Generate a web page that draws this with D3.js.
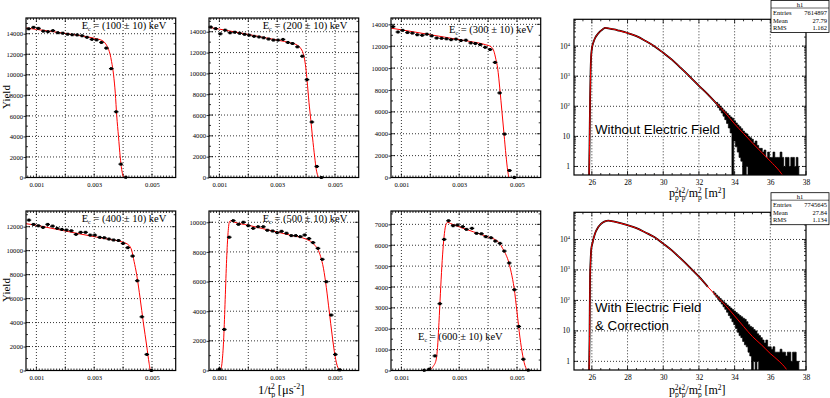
<!DOCTYPE html>
<html>
<head>
<meta charset="utf-8">
<script src="https://cdn.jsdelivr.net/npm/d3@7"></script>
<style>
  body { margin: 0; background: #fff; }
  svg text { font-family: "Liberation Serif", "Times New Roman", serif; fill: #000; }
  .grid { stroke: #000; stroke-width: 0.8; stroke-dasharray: 1,2; }
  .axis line { stroke: #000; stroke-width: 0.8; }
  .axis path { display: none; }
  .frame { fill: none; stroke: #000; stroke-width: 1.2; }
</style>
</head>
<body>
<div id="chart"></div>
<script>
var svgWidth = 830;
var svgHeight = 398;

var energies = ["100", "200", "300", "400", "500", "600"];
var xTickLabels = [0.001, 0.003, 0.005];
var xGridValues = [0.001, 0.002, 0.003, 0.004, 0.005];
var binHalfWidth = 0.00008;

// yield vs 1/t^2 for each energy cut
var binsE100 = [0.00073, 0.00090, 0.00107, 0.00124, 0.00140, 0.00157, 0.00174, 0.00191, 0.00208, 0.00224, 0.00241, 0.00258, 0.00275, 0.00292, 0.00308, 0.00325, 0.00342, 0.00359, 0.00376, 0.00392, 0.00409];
var yieldE100 = [14480, 14620, 14520, 14250, 14200, 14300, 14100, 14050, 13950, 13900, 13880, 13800, 13650, 13450, 13400, 13150, 12600, 10600, 6400, 1300, 20];
var fitE100 = [[0.00064, 14560], [0.001, 14420], [0.0015, 14230], [0.002, 14030], [0.0025, 13820], [0.003, 13560], [0.0033, 13300], [0.0034, 13000], [0.0035, 12450], [0.00355, 12000], [0.0036, 11300], [0.00367, 10000], [0.00373, 8200], [0.00378, 6000], [0.00384, 4000], [0.0039, 2000], [0.00395, 800], [0.004, 150], [0.00405, 0], [0.00582, 0]];

var binsE200 = [0.00070, 0.00087, 0.00103, 0.00120, 0.00137, 0.00153, 0.00170, 0.00187, 0.00203, 0.00220, 0.00237, 0.00253, 0.00270, 0.00287, 0.00303, 0.00320, 0.00337, 0.00353, 0.00370, 0.00387, 0.00403, 0.00420, 0.00437, 0.00453];
var yieldE200 = [14450, 14300, 13800, 14150, 13900, 13950, 13850, 13750, 13670, 13560, 13500, 13420, 13300, 13200, 13200, 13260, 12970, 12870, 12550, 11650, 9400, 5330, 1060, 0];
var fitE200 = [[0.00064, 14420], [0.001, 14250], [0.0015, 14000], [0.002, 13740], [0.0025, 13470], [0.003, 13200], [0.0035, 12900], [0.0037, 12700], [0.0038, 12450], [0.0039, 11900], [0.00395, 11300], [0.004, 10300], [0.00405, 8800], [0.0041, 7200], [0.00416, 5600], [0.00422, 3900], [0.0043, 1900], [0.00435, 800], [0.0044, 200], [0.00445, 0], [0.00582, 0]];

var binsE300 = [0.00071, 0.00088, 0.00104, 0.00121, 0.00138, 0.00155, 0.00172, 0.00188, 0.00205, 0.00222, 0.00239, 0.00256, 0.00272, 0.00289, 0.00306, 0.00323, 0.00340, 0.00356, 0.00373, 0.00390, 0.00407, 0.00424, 0.00440, 0.00457, 0.00474, 0.00491];
var yieldE300 = [13790, 13300, 13450, 13250, 13200, 13050, 13000, 13100, 12950, 12750, 12720, 12680, 12600, 12650, 12520, 12550, 12300, 12250, 12150, 11900, 11700, 10520, 7730, 3970, 640, 0];
var fitE300 = [[0.00064, 13650], [0.001, 13500], [0.0015, 13280], [0.002, 13050], [0.0025, 12830], [0.003, 12600], [0.0035, 12380], [0.0039, 12150], [0.0041, 11950], [0.0042, 11550], [0.00427, 10800], [0.00433, 10000], [0.00441, 8000], [0.00448, 6000], [0.00455, 4000], [0.00462, 2000], [0.00468, 600], [0.00473, 0], [0.00582, 0]];

var binsE400 = [0.00074, 0.00090, 0.00107, 0.00123, 0.00139, 0.00156, 0.00172, 0.00188, 0.00204, 0.00221, 0.00237, 0.00253, 0.00270, 0.00286, 0.00302, 0.00319, 0.00335, 0.00351, 0.00367, 0.00384, 0.00400, 0.00416, 0.00433, 0.00449, 0.00465, 0.00482, 0.00498];
var yieldE400 = [12550, 12190, 12080, 11940, 12190, 12050, 11860, 11770, 11720, 11660, 11360, 11530, 11530, 11300, 11300, 11110, 11080, 10970, 10890, 10850, 10600, 10250, 9550, 7490, 4480, 1340, 0];
var fitE400 = [[0.00064, 12250], [0.001, 12120], [0.0015, 11880], [0.002, 11640], [0.0025, 11400], [0.003, 11170], [0.0035, 10950], [0.004, 10700], [0.0042, 10450], [0.0043, 10000], [0.00438, 9100], [0.00447, 8000], [0.00459, 6000], [0.0047, 4000], [0.00482, 2000], [0.0049, 600], [0.00495, 0], [0.00582, 0]];

var binsE500 = [0.00100, 0.00117, 0.00134, 0.00148, 0.00166, 0.00183, 0.00200, 0.00217, 0.00234, 0.00252, 0.00266, 0.00284, 0.00300, 0.00315, 0.00332, 0.00349, 0.00364, 0.00380, 0.00395, 0.00410, 0.00424, 0.00441, 0.00456, 0.00470, 0.00487, 0.00501, 0.00516];
var yieldE500 = [90, 2770, 8990, 10110, 9860, 10000, 9770, 9590, 9700, 9700, 9460, 9410, 9300, 9390, 9260, 9100, 9100, 9030, 9140, 8900, 8630, 8240, 7500, 5990, 3740, 1080, 45];
var fitE500 = [[0.00064, 0], [0.00098, 0], [0.00105, 100], [0.0011, 700], [0.00115, 2200], [0.0012, 4800], [0.00125, 7500], [0.0013, 9300], [0.00135, 10050], [0.0014, 10100], [0.0015, 10020], [0.002, 9800], [0.0025, 9570], [0.003, 9340], [0.0035, 9110], [0.004, 8860], [0.0042, 8650], [0.0043, 8450], [0.0044, 8200], [0.0045, 7700], [0.0046, 6900], [0.0047, 5600], [0.0048, 4000], [0.0049, 2400], [0.005, 1000], [0.0051, 200], [0.0052, 0], [0.00582, 0]];

var binsE600 = [0.00179, 0.00196, 0.00216, 0.00233, 0.00248, 0.00263, 0.00279, 0.00294, 0.00312, 0.00325, 0.00344, 0.00360, 0.00377, 0.00392, 0.00410, 0.00425, 0.00441, 0.00456, 0.00473, 0.00491, 0.00506, 0.00522, 0.00539];
var yieldE600 = [10, 60, 700, 3200, 6280, 7175, 6935, 6970, 6890, 6760, 6810, 6570, 6550, 6410, 6360, 6200, 6090, 5720, 5150, 3870, 2110, 540, 15];
var fitE600 = [[0.00064, 0], [0.0019, 0], [0.002, 40], [0.0021, 200], [0.0022, 500], [0.00225, 1100], [0.0023, 2300], [0.00235, 3700], [0.0024, 5000], [0.00245, 6000], [0.0025, 6700], [0.00256, 7050], [0.0026, 7100], [0.0027, 7040], [0.003, 6880], [0.0035, 6640], [0.004, 6400], [0.0042, 6300], [0.0043, 6220], [0.0044, 6100], [0.0045, 5850], [0.0046, 5600], [0.0047, 5250], [0.0048, 4700], [0.0049, 3950], [0.005, 2800], [0.0051, 1600], [0.0052, 700], [0.0053, 150], [0.0054, 0], [0.00582, 0]];

// p^2 t^2 / m^2 spectra
var massTicks = [26, 28, 30, 32, 34, 36, 38];
var decadeTicks = [1, 10, 100, 1000, 10000];
var bandStep = 0.1;

var fitNoField = [[25.84, 0.3], [25.87, 5], [25.9, 150], [25.93, 1500], [25.96, 4500], [26.0, 8000], [26.1, 14000], [26.2, 19500], [26.3, 24000], [26.45, 30500], [26.6, 36000], [26.75, 40500], [27.0, 38500], [27.25, 36000], [27.5, 33000], [28.0, 27300], [28.5, 21500], [29.0, 15000], [29.5, 10000], [30.0, 6000], [30.5, 3500], [31.0, 1850], [31.5, 950], [32.0, 480], [32.5, 250], [33.0, 120], [33.5, 58], [34.0, 26], [34.5, 12.5], [35.0, 6], [35.5, 3], [36.0, 1.5], [36.5, 0.72], [36.7, 0.5], [36.9, 0.33]];
// low / high count of the fluctuating tail, per 0.1 slice from 33.0 to 37.6
var bandNoFieldStart = 33.0;
var bandNoField = [
  [105, 135], [90, 118], [74, 102], [60, 88], [47, 76], [36, 66], [27, 58], [19, 50], [13, 44], [0, 40],
  [7, 33], [4.5, 28], [3, 24], [2, 21], [1.5, 18], [0, 15], [0, 13], [1, 12], [0, 10], [0, 9],
  [0, 8], [0, 6], [0, 7], [0, 5], [0, 4], [0, 4], [0, 3], [0, 3.5], [0, 2], [0, 3],
  [0, 2], [0, 2], [0, 3], [0, 2], [0, 2], [0, 2], [0, 3], [0, 2], [0, 1], [0, 2],
  [0, 2], [0, 1], [0, 2], [0, 2], [0, 1], [0, 2], [0, 1]];

var fitWithField = [[25.84, 0.3], [25.87, 5], [25.9, 600], [25.93, 2000], [25.97, 5000], [26.04, 7800], [26.1, 11000], [26.2, 17000], [26.35, 25000], [26.5, 32000], [26.7, 38500], [26.93, 41500], [27.2, 39000], [27.5, 35500], [28.0, 29500], [28.5, 23500], [29.0, 17000], [29.5, 12000], [30.0, 7300], [30.5, 4300], [31.0, 2300], [31.5, 1200], [32.0, 600], [32.5, 280], [33.0, 135], [33.5, 68], [34.0, 31], [34.5, 14], [35.0, 6.5], [35.5, 3.5], [36.0, 1.8], [36.5, 1.0], [36.9, 0.55], [37.1, 0.35]];
// low / high count of the fluctuating tail, per 0.1 slice from 32.8 to 37.6
var bandWithFieldStart = 32.8;
var bandWithField = [
  [178, 198], [152, 174], [128, 150], [108, 132], [91, 116], [76, 102], [62, 90], [51, 80], [41, 71], [32, 63],
  [26, 56], [20, 50], [16, 45], [12, 40], [9, 36], [7, 32], [6, 29], [4.5, 26], [3.5, 24], [3, 20],
  [2, 16], [1.5, 14], [0, 13], [1, 11], [0, 10], [1, 8], [0, 7], [0, 6], [0, 5], [0, 4],
  [0, 5], [0, 3], [0, 3], [0, 2.5], [0, 3], [0, 2], [0, 2], [0, 2], [0, 2.5], [0, 2],
  [0, 2], [0, 1.5], [0, 2], [0, 2], [0, 1], [0, 2], [0, 2], [0, 1], [0, 1]];

var statsNoField = [["Entries", "7614897"], ["Mean", "27.79"], ["RMS", "1.162"]];
var statsWithField = [["Entries", "7745645"], ["Mean", "27.84"], ["RMS", "1.134"]];

var svg = d3.select("#chart")
  .append("svg")
  .attr("width", svgWidth)
  .attr("height", svgHeight);

var pw = 149.7, ph = 159.5;
var xDomain = [0.00064, 0.00582];

var yieldPanels = [
  {bins: binsE100, yields: yieldE100, fit: fitE100, left: 26, top: 18, yMax: 15530, yStep: 2000, lx: 81.7, ly: 29},
  {bins: binsE200, yields: yieldE200, fit: fitE200, left: 209, top: 18, yMax: 15320, yStep: 2000, lx: 262.7, ly: 29},
  {bins: binsE300, yields: yieldE300, fit: fitE300, left: 391, top: 18, yMax: 14580, yStep: 2000, lx: 449, ly: 32.5},
  {bins: binsE400, yields: yieldE400, fit: fitE400, left: 26, top: 211, yMax: 13310, yStep: 2000, lx: 81.7, ly: 222},
  {bins: binsE500, yields: yieldE500, fit: fitE500, left: 209, top: 211, yMax: 10760, yStep: 2000, lx: 262.7, ly: 222},
  {bins: binsE600, yields: yieldE600, fit: fitE600, left: 391, top: 211, yMax: 7640, yStep: 1000, lx: 418, ly: 340}
];

// small tick marks along the four sides of a frame
function frameTicks(g, x, y, xMajor, xMinor, yMajor, yMinor, l, r, t, b) {
  var sets = [[xMajor, 4], [xMinor, 2]];
  sets.forEach(function(s) {
    g.selectAll(null).data(s[0]).enter().append("line")
      .attr("x1", d => x(d)).attr("x2", d => x(d)).attr("y1", b).attr("y2", b - s[1])
      .attr("stroke", "#000").attr("stroke-width", 0.8);
    g.selectAll(null).data(s[0]).enter().append("line")
      .attr("x1", d => x(d)).attr("x2", d => x(d)).attr("y1", t).attr("y2", t + s[1])
      .attr("stroke", "#000").attr("stroke-width", 0.8);
  });
  [[yMajor, 4], [yMinor, 2]].forEach(function(s) {
    g.selectAll(null).data(s[0]).enter().append("line")
      .attr("x1", l).attr("x2", l + s[1]).attr("y1", d => y(d)).attr("y2", d => y(d))
      .attr("stroke", "#000").attr("stroke-width", 0.8);
    g.selectAll(null).data(s[0]).enter().append("line")
      .attr("x1", r).attr("x2", r - s[1]).attr("y1", d => y(d)).attr("y2", d => y(d))
      .attr("stroke", "#000").attr("stroke-width", 0.8);
  });
}

yieldPanels.forEach(function(p, i) {
  var x = d3.scaleLinear().domain(xDomain).range([p.left, p.left + pw]);
  var y = d3.scaleLinear().domain([0, p.yMax]).range([p.top + ph, p.top]);
  var g = svg.append("g");
  var clipId = "clipY" + i;
  svg.append("clipPath").attr("id", clipId).append("rect")
    .attr("x", p.left).attr("y", p.top).attr("width", pw).attr("height", ph);

  var yTicks = d3.range(0, p.yMax, p.yStep);
  var yMinor = d3.range(p.yStep / 2, p.yMax, p.yStep);
  var xMinor = d3.range(0.0007, 0.0058, 0.0001).filter(v => Math.abs(v * 1000 - Math.round(v * 1000)) > 0.01);

  g.selectAll(null).data(xGridValues).enter().append("line")
    .attr("class", "grid")
    .attr("x1", d => x(d)).attr("x2", d => x(d))
    .attr("y1", p.top).attr("y2", p.top + ph);
  g.selectAll(null).data(yTicks.slice(1)).enter().append("line")
    .attr("class", "grid")
    .attr("x1", p.left).attr("x2", p.left + pw)
    .attr("y1", d => y(d)).attr("y2", d => y(d));

  frameTicks(g, x, y, xGridValues, xMinor, yTicks, yMinor, p.left, p.left + pw, p.top, p.top + ph);

  var bottomAxis = d3.axisBottom(x)
    .tickValues(xTickLabels)
    .tickSize(0).tickPadding(5)
    .tickFormat(d3.format(".3f"));
  g.append("g").attr("class", "axis")
    .attr("transform", `translate(0, ${p.top + ph})`)
    .call(bottomAxis)
    .selectAll("text").attr("font-size", "6.6px");

  var leftAxis = d3.axisLeft(y)
    .tickValues(yTicks)
    .tickSizeInner(2.5).tickSizeOuter(0).tickPadding(0.5)
    .tickFormat(d3.format("d"));
  g.append("g").attr("class", "axis")
    .attr("transform", `translate(${p.left}, 0)`)
    .call(leftAxis)
    .selectAll("text").attr("font-size", "6.6px");

  g.append("path")
    .datum(p.fit)
    .attr("clip-path", `url(#${clipId})`)
    .attr("fill", "none")
    .attr("stroke", "#ff0000")
    .attr("stroke-width", 1)
    .attr("d", d3.line().x(d => x(d[0])).y(d => y(d[1])).curve(d3.curveMonotoneX));

  var pts = p.bins.map((b, k) => [b, p.yields[k]]);
  g.selectAll(null).data(pts).enter().append("line")
    .attr("x1", d => x(d[0] - binHalfWidth))
    .attr("x2", d => x(d[0] + binHalfWidth))
    .attr("y1", d => y(d[1])).attr("y2", d => y(d[1]))
    .attr("stroke", "#000").attr("stroke-width", 1.3);
  g.selectAll(null).data(pts).enter().append("rect")
    .attr("x", d => x(d[0]) - 1.3)
    .attr("y", d => y(d[1]) - 1.5)
    .attr("width", 2.6).attr("height", 3)
    .attr("fill", "#000");

  g.append("rect").attr("class", "frame")
    .attr("x", p.left).attr("y", p.top).attr("width", pw).attr("height", ph);

  var lab = g.append("text")
    .attr("x", p.lx).attr("y", p.ly)
    .attr("font-size", "10.5px");
  lab.append("tspan").text("E");
  lab.append("tspan").attr("dy", 2).attr("font-size", "6px").text("c");
  lab.append("tspan").attr("dy", -2).text(" = (" + energies[i] + " \u00b1 10) keV");
});

[97, 290].forEach(function(cy) {
  svg.append("text")
    .attr("transform", `translate(10, ${cy}) rotate(-90)`)
    .attr("text-anchor", "middle")
    .attr("font-size", "11px")
    .text("Yield");
});

var xt = svg.append("text").attr("x", 258).attr("y", 394).attr("font-size", "12.5px");
xt.append("tspan").text("1/t");
xt.append("tspan").attr("dy", 3).attr("font-size", "8px").text("p");
xt.append("tspan").attr("dx", -4.5).attr("dy", -8).attr("font-size", "8px").text("2");
xt.append("tspan").attr("dy", 5).text(" [\u03bcs");
xt.append("tspan").attr("dy", -5).attr("font-size", "8px").text("-2");
xt.append("tspan").attr("dy", 5).text("]");

// right column
var massPanels = [
  {fit: fitNoField, band: bandNoField, bandStart: bandNoFieldStart, top: 19.3, bottom: 175,
   stats: statsNoField, statsTop: 0.5, notes: ["Without Electric Field"], noteY: 134, titleY: 197},
  {fit: fitWithField, band: bandWithField, bandStart: bandWithFieldStart, top: 212.3, bottom: 370,
   stats: statsWithField, statsTop: 192.7, notes: ["With Electric Field", "& Correction"], noteY: 311.5, titleY: 394}
];

var mLeft = 574, mRight = 806;

massPanels.forEach(function(p, i) {
  var x = d3.scaleLinear().domain([25, 38]).range([mLeft, mRight]);
  var y = d3.scaleLog().domain([0.52, 78000]).range([p.bottom, p.top]);
  var g = svg.append("g");
  var clipId = "clipM" + i;
  svg.append("clipPath").attr("id", clipId).append("rect")
    .attr("x", mLeft).attr("y", p.top).attr("width", mRight - mLeft).attr("height", p.bottom - p.top);

  g.selectAll(null).data(massTicks.slice(0, -1)).enter().append("line")
    .attr("class", "grid")
    .attr("x1", d => x(d)).attr("x2", d => x(d))
    .attr("y1", p.top).attr("y2", p.bottom);
  g.selectAll(null).data(decadeTicks).enter().append("line")
    .attr("class", "grid")
    .attr("x1", mLeft).attr("x2", mRight)
    .attr("y1", d => y(d)).attr("y2", d => y(d));

  var minorLog = [];
  decadeTicks.forEach(d => d3.range(2, 10).forEach(m => { if (d * m < 78000) minorLog.push(d * m); }));
  var xMinor = d3.range(25.5, 38, 0.5).filter(v => massTicks.indexOf(v) < 0);
  frameTicks(g, x, y, massTicks, xMinor, decadeTicks, minorLog, mLeft, mRight, p.top, p.bottom);

  g.append("g").attr("class", "axis")
    .attr("transform", `translate(0, ${p.bottom})`)
    .call(d3.axisBottom(x).tickValues(massTicks).tickSize(0).tickPadding(5).tickFormat(d3.format("d")))
    .selectAll("text").attr("font-size", "7.5px");

  var labs = g.selectAll(null).data(decadeTicks).enter().append("text")
    .attr("x", mLeft - 4).attr("y", d => y(d)).attr("dy", "0.33em")
    .attr("text-anchor", "end").attr("font-size", "7.5px");
  labs.each(function(d) {
    var t = d3.select(this);
    var e = Math.round(Math.log10(d));
    if (e < 2) { t.text(d); return; }
    t.append("tspan").text("10");
    t.append("tspan").attr("dy", -3).attr("font-size", "5px").text(e);
  });

  var line = d3.line().x(d => x(d[0])).y(d => y(d[1])).curve(d3.curveMonotoneX);
  var main = p.fit.filter(d => d[0] <= p.bandStart + 0.05);
  var band = p.band.map((b, k) => [p.bandStart + k * bandStep, b[0], b[1]]);

  g.append("path").datum(main)
    .attr("clip-path", `url(#${clipId})`)
    .attr("fill", "none").attr("stroke", "#000").attr("stroke-width", 1.8)
    .attr("d", line);
  g.append("path").datum(band)
    .attr("clip-path", `url(#${clipId})`)
    .attr("fill", "#000").attr("stroke", "#000").attr("stroke-width", 0.7)
    .attr("d", d3.area().x(d => x(d[0]))
      .y0(d => y(d[1] > 0 ? d[1] : 0.3))
      .y1(d => y(d[2]))
      .curve(d3.curveStep));
  g.append("path").datum(p.fit)
    .attr("clip-path", `url(#${clipId})`)
    .attr("fill", "none").attr("stroke", "#ff0000").attr("stroke-width", 1)
    .attr("d", line);

  g.append("rect").attr("class", "frame")
    .attr("x", mLeft).attr("y", p.top).attr("width", mRight - mLeft).attr("height", p.bottom - p.top);

  p.notes.forEach(function(n, k) {
    g.append("text")
      .attr("x", 595).attr("y", p.noteY + k * 18.5)
      .style("font-family", "'Liberation Sans', Arial, Helvetica, sans-serif")
      .attr("font-size", "13.3px")
      .text(n);
  });

  // stats box
  var sb = svg.append("g");
  sb.append("rect")
    .attr("x", 771).attr("y", p.statsTop).attr("width", 58).attr("height", 32)
    .attr("fill", "#fff").attr("stroke", "#000").attr("stroke-width", 0.8);
  sb.append("line")
    .attr("x1", 771).attr("x2", 829).attr("y1", p.statsTop + 7.5).attr("y2", p.statsTop + 7.5)
    .attr("stroke", "#000").attr("stroke-width", 0.6);
  sb.append("text").attr("x", 800).attr("y", p.statsTop + 6)
    .attr("text-anchor", "middle").attr("font-size", "6.5px").text("h1");
  p.stats.forEach(function(r, k) {
    sb.append("text").attr("x", 773).attr("y", p.statsTop + 14.7 + k * 7.3)
      .attr("font-size", "6.5px").text(r[0]);
    sb.append("text").attr("x", 827).attr("y", p.statsTop + 14.7 + k * 7.3)
      .attr("text-anchor", "end").attr("font-size", "6.5px").text(r[1]);
  });

  // axis title p_p^2 t_p^2 / m_p^2 [m^2]
  var t = svg.append("text").attr("x", 669).attr("y", p.titleY).attr("font-size", "12px");
  var back = 0;
  ["p", "t", "/m"].forEach(function(s) {
    t.append("tspan").attr("dy", back).text(s);
    t.append("tspan").attr("dy", 2.5).attr("font-size", "7.5px").text("p");
    t.append("tspan").attr("dx", -4).attr("dy", -6.5).attr("font-size", "7.5px").text("2");
    back = 4;
  });
  t.append("tspan").attr("dy", back).text(" [m");
  t.append("tspan").attr("dy", -4).attr("font-size", "7.5px").text("2");
  t.append("tspan").attr("dy", 4).text("]");
});
</script>
</body>
</html>
